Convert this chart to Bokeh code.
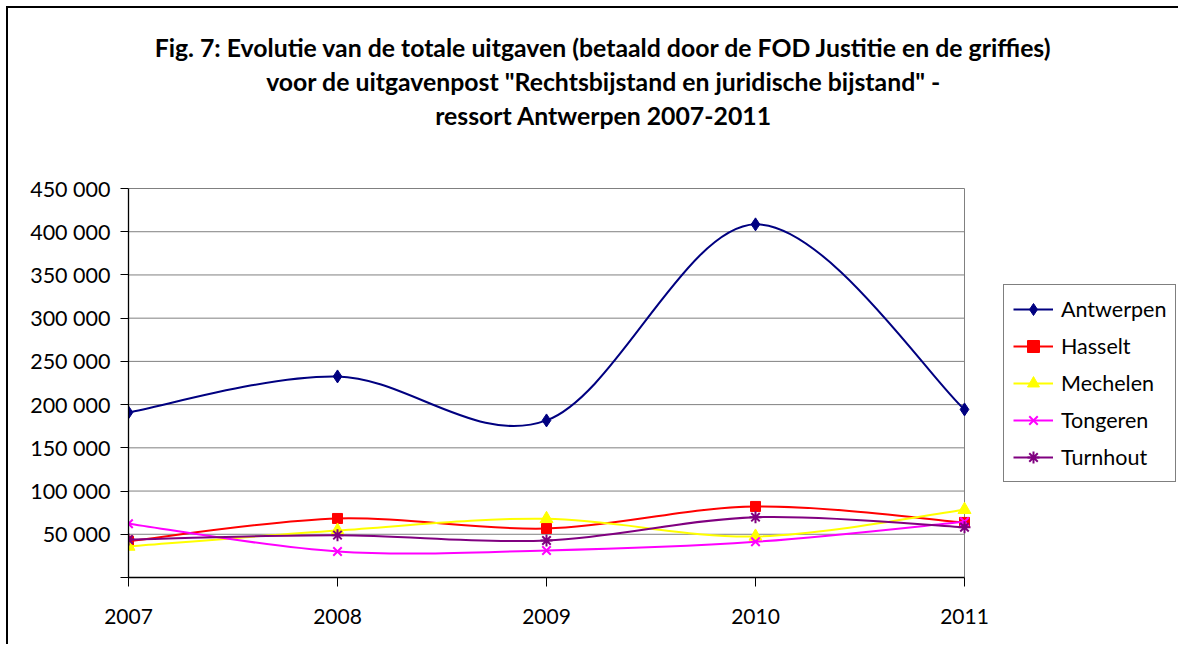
from bokeh.plotting import figure
from bokeh.models import (Range1d, FixedTicker, CustomJSTickFormatter, Legend,
                          LegendItem, Label, ColumnDataSource)
from bokeh.embed import file_html
from bokeh.resources import INLINE

years = [2007, 2008, 2009, 2010, 2011]
antwerpen = [191000, 232600, 181700, 408500, 194400]
hasselt = [42000, 68300, 56700, 82200, 63700]
mechelen = [35900, 54400, 67900, 47500, 78400]
tongeren = [62200, 30100, 31300, 41300, 64500]
turnhout = [44000, 49000, 42800, 69800, 58200]
series_names = ["Antwerpen", "Hasselt", "Mechelen", "Tongeren", "Turnhout"]
y_ticks = [0, 50000, 100000, 150000, 200000, 250000, 300000, 350000, 400000, 450000]
title_lines = [
    "Fig. 7: Evolutie van de totale uitgaven (betaald door de FOD Justitie en de griffies)",
    'voor de uitgavenpost "Rechtsbijstand en juridische bijstand" -',
    "ressort Antwerpen 2007-2011",
]

FONT = "Lato"
colors = ["#000080", "#FF0000", "#FFFF00", "#FF00FF", "#800080"]
markers = ["diamond", "square", "triangle", "x", "asterisk"]
msizes = [13, 10, 13, 12, 12]

# layout (pixels on the canvas)
W, H = 1178, 644
FX0, FX1 = 128, 1178        # frame left / right
AX_R = 964                  # pixel of the last year
FY_B, FY_T = 577, 188       # pixel of y=0 and y=450000
X0, X1 = years[0], years[-1]
YMAX = y_ticks[-1]


def px_x(px):
    return X0 + (px - FX0) * (X1 - X0) / (AX_R - FX0)


def py_y(py):
    return (FY_B - py) * YMAX / (FY_B - FY_T)


def smooth(xs, ys):
    n = len(xs)
    d = dict(x0=[], y0=[], x1=[], y1=[], cx0=[], cy0=[], cx1=[], cy1=[])
    for i in range(n - 1):
        a = i - 1 if i > 0 else i
        b = i + 2 if i + 2 < n else i + 1
        d["x0"].append(xs[i]); d["y0"].append(ys[i])
        d["x1"].append(xs[i + 1]); d["y1"].append(ys[i + 1])
        d["cx0"].append(xs[i] + (xs[i + 1] - xs[a]) / 6)
        d["cy0"].append(ys[i] + (ys[i + 1] - ys[a]) / 6)
        d["cx1"].append(xs[i + 1] - (xs[b] - xs[i]) / 6)
        d["cy1"].append(ys[i + 1] - (ys[b] - ys[i]) / 6)
    return ColumnDataSource(d)


p = figure(width=W, height=H, output_backend="svg", toolbar_location=None,
           x_range=Range1d(X0, px_x(FX1)), y_range=Range1d(0, py_y(0)),
           min_border_left=FX0, min_border_right=W - FX1,
           min_border_bottom=H - FY_B, min_border_top=0)
p.title.visible = False
p.background_fill_alpha = 0
p.border_fill_alpha = 0
p.outline_line_color = None
p.styles = {
    "background-color": "#ffffff",
    "background-image": "linear-gradient(#000,#000), linear-gradient(#000,#000)",
    "background-size": "2px 2000px, 2000px 2px",
    "background-position": "6px 6px, 6px 6px",
    "background-repeat": "no-repeat, no-repeat",
}

p.xgrid.grid_line_color = None
p.ygrid.grid_line_color = None

# horizontal gridlines and right edge of the plot area
grid_src = ColumnDataSource(dict(x0=[X0] * (len(y_ticks) - 1), x1=[X1] * (len(y_ticks) - 1),
                                 y=y_ticks[1:]))
p.segment(x0="x0", x1="x1", y0="y", y1="y", source=grid_src, line_color="#808080", line_width=1)
p.segment(x0=[X1], x1=[X1], y0=[0], y1=[YMAX], line_color="#808080", line_width=1)

p.yaxis.ticker = FixedTicker(ticks=y_ticks)
p.yaxis.bounds = (0, YMAX)
p.yaxis.formatter = CustomJSTickFormatter(code="""
if (tick == 0) return "";
const s = Math.round(tick).toString();
return s.replace(/\\B(?=(\\d{3})+(?!\\d))/g, " ");
""")
p.xaxis.ticker = FixedTicker(ticks=years)
p.xaxis.bounds = (X0, X1)
for ax in (p.xaxis, p.yaxis):
    ax.axis_line_color = "black"
    ax.axis_line_width = 1.3
    ax.major_tick_line_color = "black"
    ax.major_tick_in = 0
    ax.minor_tick_line_color = None
    ax.major_label_text_font = FONT
    ax.major_label_text_font_size = "21.5px"
    ax.major_label_text_color = "black"
p.yaxis.major_tick_out = 8
p.yaxis.major_label_standoff = 10
p.xaxis.major_tick_out = 9
p.xaxis.major_label_standoff = 22
p.xaxis.major_label_text_font_size = "21px"

all_series = [antwerpen, hasselt, mechelen, tongeren, turnhout]
items = []
for name, vals, c, m, s in zip(series_names, all_series, colors, markers, msizes):
    src = smooth(years, vals)
    p.bezier(x0="x0", y0="y0", x1="x1", y1="y1", cx0="cx0", cy0="cy0",
             cx1="cx1", cy1="cy1", source=src, line_color=c, line_width=2)
    leg_line = p.line(x=years[:1], y=vals[:1], line_color=c, line_width=2)
    sc = p.scatter(years, vals, marker=m, size=s, fill_color=c, line_color=c,
                   line_width=2 if m in ("x", "asterisk") else 1)
    items.append(LegendItem(label=name, renderers=[leg_line, sc]))

legend = Legend(items=items, location=(1003 - FX0, FY_B - 482))
legend.label_text_font = FONT
legend.label_text_font_size = "21.5px"
legend.label_text_color = "black"
legend.glyph_width = 40
legend.glyph_height = 30
legend.label_height = 30
legend.spacing = 7
legend.padding = 9
legend.margin = 0
legend.label_standoff = 8
legend.border_line_color = "black"
legend.border_line_width = 1
legend.background_fill_alpha = 1
p.add_layout(legend)

for t, ty in zip(title_lines, [47, 81, 115]):
    p.add_layout(Label(x=px_x(603), y=py_y(ty), text=t,
                       text_align="center", text_baseline="middle",
                       text_font=FONT, text_font_style="bold",
                       text_font_size="24.8px", text_color="black"))

open("out.html", "w").write(file_html(p, INLINE))
